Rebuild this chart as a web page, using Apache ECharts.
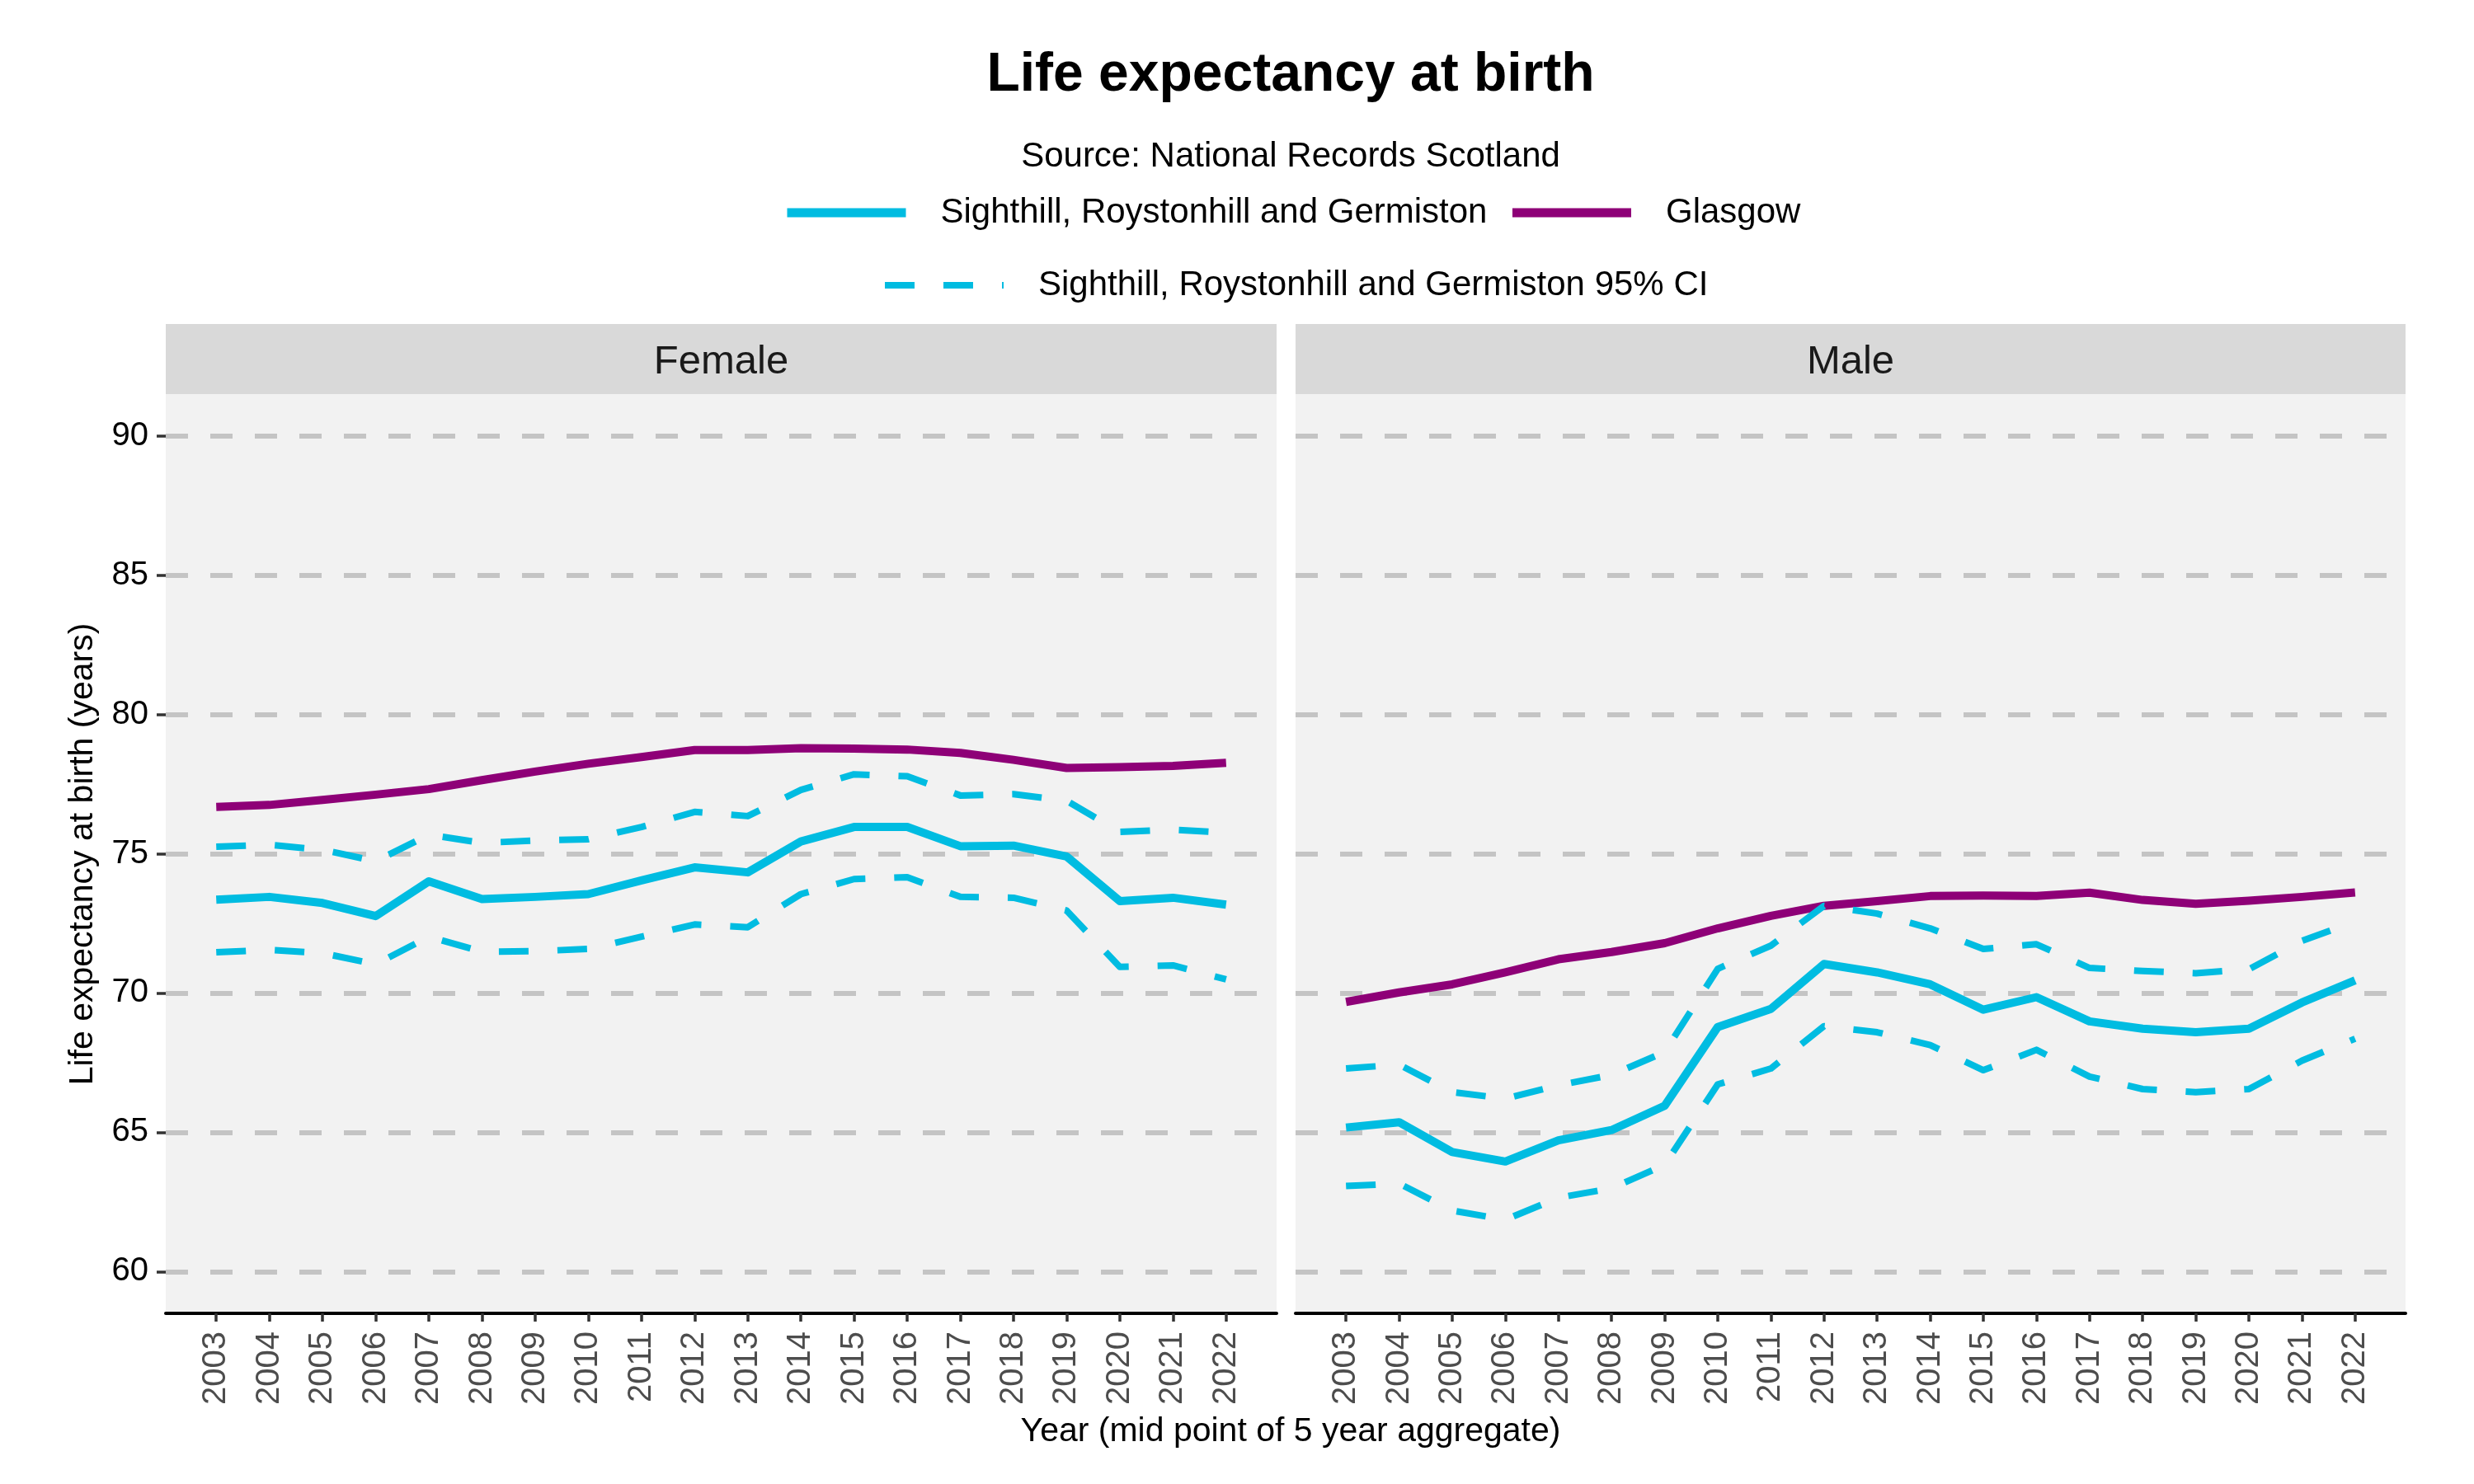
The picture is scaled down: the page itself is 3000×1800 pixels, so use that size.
<!DOCTYPE html>
<html>
<head>
<meta charset="utf-8">
<title>Life expectancy at birth</title>
<script src="https://cdn.jsdelivr.net/npm/echarts@6/dist/echarts.min.js"></script>
<style>
  html, body { margin: 0; padding: 0; background: #ffffff; }
  #main { width: 3000px; height: 1800px; }
</style>
</head>
<body>
<div id="main"></div>
<script>
// ---- data ----
var years = [2003, 2004, 2005, 2006, 2007, 2008, 2009, 2010, 2011, 2012,
             2013, 2014, 2015, 2016, 2017, 2018, 2019, 2020, 2021, 2022];
var yTicks = [60, 65, 70, 75, 80, 85, 90];

var femaleGlasgow = [76.68, 76.75, 76.93, 77.12, 77.32, 77.64, 77.95, 78.23, 78.47, 78.72,
                     78.72, 78.79, 78.77, 78.74, 78.62, 78.37, 78.08, 78.11, 78.15, 78.26];
var femaleArea    = [73.35, 73.45, 73.23, 72.76, 74.01, 73.37, 73.45, 73.55, 74.04, 74.51,
                     74.33, 75.44, 75.96, 75.96, 75.27, 75.29, 74.90, 73.30, 73.42, 73.17];
var femaleUpper   = [75.25, 75.32, 75.14, 74.73, 75.68, 75.39, 75.47, 75.52, 75.96, 76.50,
                     76.35, 77.29, 77.85, 77.78, 77.09, 77.14, 76.90, 75.78, 75.86, 75.76];
var femaleLower   = [71.46, 71.55, 71.43, 71.03, 72.02, 71.48, 71.50, 71.58, 72.02, 72.46,
                     72.36, 73.55, 74.09, 74.16, 73.45, 73.42, 72.96, 70.94, 70.99, 70.49];

var maleGlasgow = [69.68, 70.02, 70.31, 70.74, 71.21, 71.47, 71.79, 72.32, 72.77, 73.13,
                   73.30, 73.48, 73.50, 73.48, 73.60, 73.34, 73.20, 73.31, 73.45, 73.61];
var maleArea    = [65.17, 65.36, 64.29, 63.95, 64.71, 65.08, 65.95, 68.78, 69.43, 71.04,
                   70.74, 70.31, 69.40, 69.85, 68.98, 68.72, 68.59, 68.72, 69.66, 70.45];
var maleUpper   = [67.29, 67.43, 66.44, 66.21, 66.69, 67.06, 67.88, 70.87, 71.70, 73.13,
                   72.85, 72.32, 71.58, 71.75, 70.90, 70.79, 70.71, 70.85, 71.87, 72.57];
var maleLower   = [63.07, 63.16, 62.19, 61.86, 62.65, 62.99, 63.83, 66.72, 67.29, 68.81,
                   68.59, 68.13, 67.23, 67.96, 67.00, 66.55, 66.44, 66.55, 67.57, 68.36];

var panels = ['Female', 'Male'];

var AREA = 'Sighthill, Roystonhill and Germiston';
var CI = 'Sighthill, Roystonhill and Germiston 95% CI';
var GLASGOW = 'Glasgow';

var cyan = '#00BCE1';
var purple = '#8E0077';
var font = '"Liberation Sans", Helvetica, Arial, sans-serif';

function pairs(vals) {
    return vals.map(function (v, i) { return [years[i], v]; });
}

var myChart = echarts.init(document.getElementById('main'));

// panel geometry
var grids = [
    { left: 201, top: 478, width: 1347, height: 1115 },
    { left: 1571, top: 478, width: 1346, height: 1115 }
];

function lineSeries(name, vals, idx, color, width, dash) {
    return {
        name: name,
        type: 'line',
        xAxisIndex: idx,
        yAxisIndex: idx,
        data: pairs(vals),
        symbol: 'none',
        color: color,
        lineStyle: { color: color, width: width, type: dash || 'solid', join: 'round', cap: 'butt' },
        emphasis: { disabled: true }
    };
}

var series = [];
var panelData = [
    [femaleGlasgow, femaleArea, femaleUpper, femaleLower],
    [maleGlasgow, maleArea, maleUpper, maleLower]
];
panelData.forEach(function (d, i) {
    series.push(lineSeries(GLASGOW, d[0], i, purple, 10));
    series.push(lineSeries(AREA, d[1], i, cyan, 10));
    series.push(lineSeries(CI, d[2], i, cyan, 8, [36, 35]));
    series.push(lineSeries(CI, d[3], i, cyan, 8, [36, 35]));
});

var xAxes = [0, 1].map(function (i) {
    return {
        type: 'value',
        gridIndex: i,
        min: 2002.05,
        max: 2022.95,
        splitLine: { show: false },
        axisLine: { show: true, onZero: false, lineStyle: { color: '#000000', width: 4 } },
        axisTick: { show: true, length: 10, customValues: years, lineStyle: { color: '#333333', width: 3.5 } },
        axisLabel: {
            customValues: years,
            rotate: 90,
            margin: 22,
            color: '#4D4D4D',
            fontSize: 40,
            fontFamily: font,
            formatter: function (v) { return String(v); }
        }
    };
});

var yAxes = [0, 1].map(function (i) {
    return {
        type: 'value',
        gridIndex: i,
        min: 58.5,
        max: 91.5,
        axisLine: { show: false },
        axisTick: { show: i === 0, length: 11, customValues: yTicks, lineStyle: { color: '#333333', width: 3.5 } },
        axisLabel: {
            show: i === 0,
            customValues: yTicks,
            margin: 21,
            color: '#000000',
            fontSize: 40,
            fontFamily: font
        },
        splitLine: { show: true, lineStyle: { color: '#C4C4C4', width: 6, type: [27, 27] } }
    };
});

var legendText = { fontSize: 42, color: '#000000', fontFamily: font, padding: [0, 0, 0, 37] };

var graphics = [
    { type: 'text', x: 1565, y: 92, style: { text: 'Life expectancy at birth', align: 'center', verticalAlign: 'middle',
        font: 'bold 66px ' + font, fill: '#000000' } },
    { type: 'text', x: 1565, y: 190, style: { text: 'Source: National Records Scotland', align: 'center', verticalAlign: 'middle',
        font: '42px ' + font, fill: '#000000' } },
    { type: 'text', x: 101, y: 1036, rotation: Math.PI / 2, style: { text: 'Life expectancy at birth (years)', align: 'center',
        verticalAlign: 'middle', font: '41px ' + font, fill: '#000000' } },
    { type: 'text', x: 1565, y: 1737, style: { text: 'Year (mid point of 5 year aggregate)', align: 'center',
        verticalAlign: 'middle', font: '41px ' + font, fill: '#000000' } }
];
grids.forEach(function (g, i) {
    graphics.push({ type: 'rect', shape: { x: g.left, y: 393, width: g.width, height: 85 }, style: { fill: '#D9D9D9' } });
    graphics.push({ type: 'text', x: g.left + g.width / 2, y: 439, style: { text: panels[i], align: 'center',
        verticalAlign: 'middle', font: '49px ' + font, fill: '#1A1A1A' } });
});

var option = {
    animation: false,
    backgroundColor: '#ffffff',
    grid: grids.map(function (g) {
        return { left: g.left, top: g.top, width: g.width, height: g.height, show: true,
                 backgroundColor: '#F2F2F2', borderWidth: 0, containLabel: false };
    }),
    xAxis: xAxes,
    yAxis: yAxes,
    legend: [
        {
            data: [AREA, GLASGOW],
            left: 949, top: 237, padding: 0,
            itemWidth: 144, itemHeight: 14, itemGap: 25,
            selectedMode: false,
            textStyle: legendText,
            lineStyle: { width: 11 },
            itemStyle: { opacity: 0 }
        },
        {
            data: [CI],
            left: 1069, top: 325, padding: 0,
            itemWidth: 144, itemHeight: 14, itemGap: 25,
            selectedMode: false,
            textStyle: legendText,
            lineStyle: { width: 8, type: [36, 35] },
            itemStyle: { opacity: 0 }
        }
    ],
    graphic: graphics,
    series: series
};

myChart.setOption(option);
</script>
</body>
</html>
